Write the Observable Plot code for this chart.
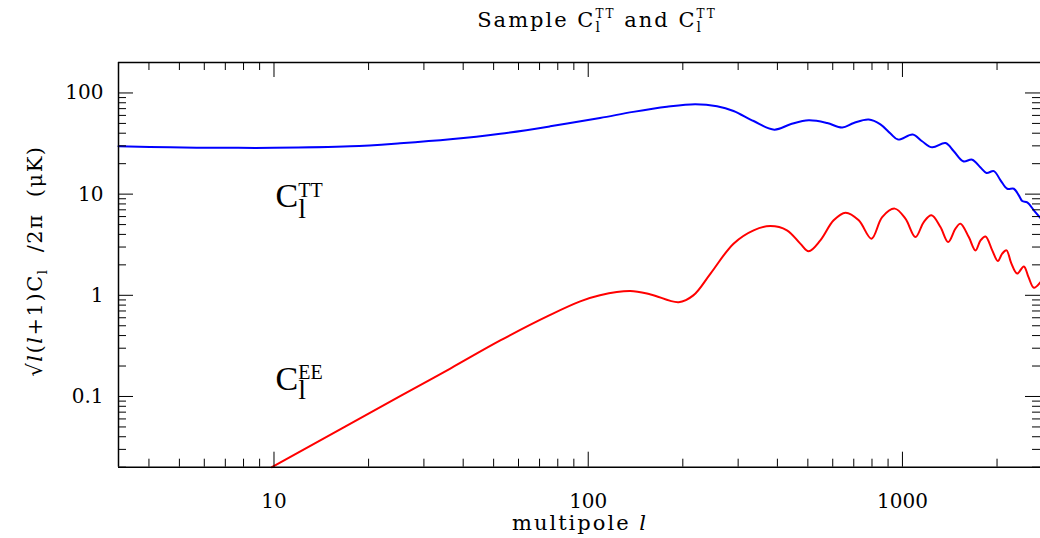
<!DOCTYPE html>
<html><head><meta charset="utf-8">
<script src="https://cdn.jsdelivr.net/npm/d3@7"></script>
<script src="https://cdn.jsdelivr.net/npm/@observablehq/plot@0.6"></script>
<style>html,body{margin:0;padding:0;background:#fff;overflow:hidden}</style>
</head><body><div id="chart"></div>
<script>
// ---- data ----
const ttL = [3.2, 4.67, 7.24, 10, 17.5, 25.2, 36.4, 52.5, 75.7, 109, 139, 178, 219, 257, 290, 336, 391, 440, 503, 576, 643, 700, 781, 851, 916, 969, 1078, 1155, 1243, 1371, 1457, 1561, 1667, 1772, 1851, 1954, 2052, 2155, 2262, 2346, 2405, 2495, 2619, 2750];
const ttV = [29.7, 29.0, 28.7, 28.7, 29.7, 31.8, 34.8, 39.5, 46.8, 56.6, 65.0, 73.0, 77.3, 73.9, 66.4, 52.8, 43.4, 49.0, 53.7, 50.5, 45.5, 50.5, 54.6, 49.0, 39.7, 34.6, 38.8, 33.3, 29.0, 32.0, 26.5, 21.1, 21.9, 18.3, 16.2, 16.9, 13.7, 11.3, 11.3, 9.73, 8.55, 8.30, 6.92, 5.80];
const eeL = [9.85, 25.2, 36.4, 52.5, 75.7, 94.3, 109, 136, 158, 194, 216, 245, 290, 336, 380, 429, 473, 503, 548, 604, 659, 726, 797, 862, 945, 1022, 1100, 1169, 1237, 1321, 1398, 1475, 1530, 1626, 1708, 1772, 1838, 1931, 2012, 2077, 2144, 2219, 2318, 2434, 2519, 2619, 2750];
const eeV = [0.02, 0.101, 0.189, 0.358, 0.64, 0.87, 1.0, 1.10, 1.02, 0.856, 0.998, 1.64, 3.24, 4.39, 4.84, 4.39, 3.24, 2.72, 3.49, 5.51, 6.56, 5.51, 3.63, 5.93, 7.19, 5.72, 3.76, 5.30, 6.17, 4.73, 3.36, 4.56, 5.11, 3.76, 2.78, 3.49, 3.82, 2.78, 2.18, 2.58, 2.78, 2.08, 1.64, 1.93, 1.51, 1.19, 1.35];

const xMajor = [10, 100, 1000];
const xTickLabels = ["10", "100", "1000"];
const xMinor = [4,5,6,7,8,9,20,30,40,50,60,70,80,90,200,300,400,500,600,700,800,900,2000];
const yMajor = [0.1, 1, 10, 100];
const yTickLabels = ["0.1", "1", "10", "100"];
const yMinor = [0.02,0.03,0.04,0.05,0.06,0.07,0.08,0.09,0.2,0.3,0.4,0.5,0.6,0.7,0.8,0.9,2,3,4,5,6,7,8,9,20,30,40,50,60,70,80,90,200];

const xDomain = [3.2, 2750];
const yDomain = [0.02, 200];
const ttLabelAt = {l: 10.15, v: 7.46};
const eeLabelAt = {l: 10.15, v: 0.1147};

// ---- layout ----
const W = 1040, H = 538, mL = 118, mR = 0, mT = 62, mB = 71.3;
const pw = W - mL - mR, ph = H - mT - mB;
const FONT = "DejaVu Serif";

const tt = ttL.map((l, i) => ({l, v: ttV[i]}));
const ee = eeL.map((l, i) => ({l, v: eeV[i]}));

const plot = Plot.plot({
  width: W, height: H,
  marginLeft: mL, marginRight: mR, marginTop: mT, marginBottom: mB,
  x: {type: "log", domain: xDomain, axis: null},
  y: {type: "log", domain: yDomain, axis: null},
  style: {fontFamily: FONT, background: "white", color: "black"},
  marks: [
    Plot.line(tt, {x: "l", y: "v", stroke: "#0000ff", strokeWidth: 2, curve: "catmull-rom"}),
    Plot.line(ee, {x: "l", y: "v", stroke: "#ff0000", strokeWidth: 2, curve: "catmull-rom"}),
    // inward ticks on all four sides
    Plot.tickY(yMajor, {y: d => d, insetRight: pw - 15, stroke: "black"}),
    Plot.tickY(yMajor, {y: d => d, insetLeft: pw - 15, stroke: "black"}),
    Plot.tickY(yMinor, {y: d => d, insetRight: pw - 8, stroke: "black"}),
    Plot.tickY(yMinor, {y: d => d, insetLeft: pw - 8, stroke: "black"}),
    Plot.tickX(xMajor, {x: d => d, insetTop: ph - 15, stroke: "black"}),
    Plot.tickX(xMajor, {x: d => d, insetBottom: ph - 15, stroke: "black"}),
    Plot.tickX(xMinor, {x: d => d, insetTop: ph - 8, stroke: "black"}),
    Plot.tickX(xMinor, {x: d => d, insetBottom: ph - 8, stroke: "black"}),
    // frame (top, bottom, left)
    Plot.ruleY(yDomain, {stroke: "black", strokeWidth: 1.5}),
    Plot.ruleX([xDomain[0]], {stroke: "black", strokeWidth: 1.5}),
    // tick labels
    Plot.text(xMajor, {x: d => d, text: (d, i) => xTickLabels[i], frameAnchor: "bottom", lineAnchor: "bottom", dy: 41, fontSize: 20, fill: "black"}),
    Plot.text(yMajor, {y: d => d, text: (d, i) => yTickLabels[i], frameAnchor: "left", textAnchor: "end", lineAnchor: "middle", dx: -15, fontSize: 20, fill: "black"})
  ]
});
document.getElementById("chart").appendChild(plot);

// ---- rich text (sub/superscripts) ----
const svg = d3.select(plot);
const sx = plot.scale("x"), sy = plot.scale("y");

function rich(parent, segs, base) {
  const g = parent.append("g").attr("text-anchor", "start");
  let cursor = 0, prevStart = 0, prevEnd = 0;
  for (const s of segs) {
    const start = s.stack ? prevStart : cursor;
    const t = g.append("text")
      .attr("x", start).attr("y", s.dy || 0)
      .attr("text-anchor", "start")
      .attr("fill", "black")
      .style("font-size", (s.size || base.size) + "px")
      .style("font-family", s.font || base.font || FONT)
      .style("font-style", s.italic ? "italic" : "normal")
      .style("letter-spacing", (s.ls != null ? s.ls : (base.ls || 0)) + "px")
      .style("white-space", "pre")
      .text(s.t);
    const w = t.node().getComputedTextLength();
    if (s.stack) {
      cursor = Math.max(prevEnd, start + w);
    } else {
      prevStart = start; prevEnd = start + w; cursor = start + w;
    }
  }
  return {g, width: cursor};
}

// title
{
  const r = rich(svg, [
    {t: "Sample C"},
    {t: "TT", size: 12, dy: -9},
    {t: "l", size: 14, dy: 5, stack: true},
    {t: " and C"},
    {t: "TT", size: 12, dy: -9},
    {t: "l", size: 14, dy: 5, stack: true}
  ], {size: 21, ls: 2});
  r.g.attr("transform", `translate(${597 - r.width / 2},27)`);
}

// x axis label
{
  const r = rich(svg, [
    {t: "multipole "},
    {t: "l", italic: true}
  ], {size: 21, ls: 2});
  r.g.attr("transform", `translate(${580 - r.width / 2},530)`);
}

// y axis label (rotated)
{
  const r = rich(svg, [
    {t: "√"},
    {t: "l", italic: true},
    {t: "("},
    {t: "l", italic: true},
    {t: "+1)C"},
    {t: "l", size: 13, dy: 5},
    {t: "  /2π  (μK)"}
  ], {size: 21, ls: 1.5});
  r.g.attr("transform", `translate(42,261) rotate(-90) translate(${-r.width / 2},0)`);
}

// curve annotations
function curveLabel(at, sup, supDy, subDy) {
  const r = rich(svg, [
    {t: "C", size: 34},
    {t: sup, size: 20, dy: supDy},
    {t: "l", size: 28, dy: subDy, stack: true}
  ], {font: "Liberation Serif", ls: 0});
  r.g.attr("transform", `translate(${sx.apply(at.l)},${sy.apply(at.v)})`);
}
curveLabel(ttLabelAt, "TT", -10, 11);
curveLabel(eeLabelAt, "EE", -11, 9);
</script>
</body></html>
